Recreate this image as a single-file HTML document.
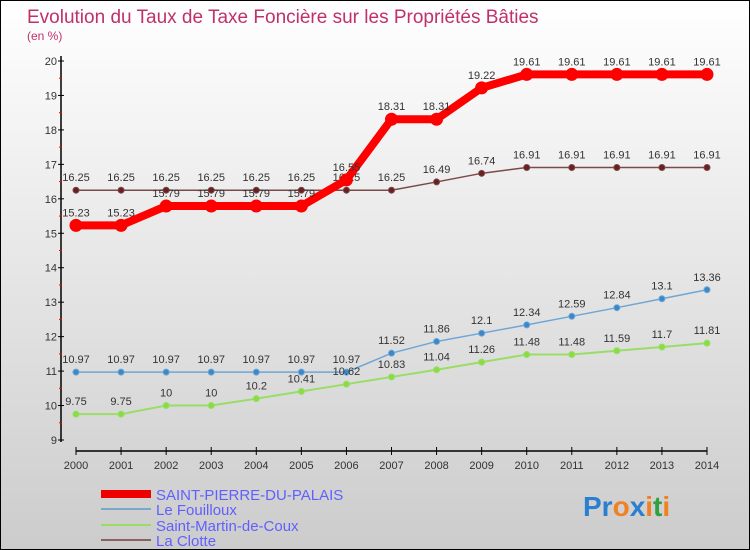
<!DOCTYPE html>
<html><head><meta charset="utf-8"><style>
body{margin:0;}
#c{width:750px;height:550px;position:relative;box-sizing:border-box;border:1px solid #000;background:linear-gradient(#fff,#ccc);font-family:"Liberation Sans",sans-serif;overflow:hidden}
svg text{font-family:"Liberation Sans",sans-serif}
</style></head><body>
<div id="c">
<svg id="s" width="750" height="550">
<text x="26" y="22" font-size="19" fill="#c0306a">Evolution du Taux de Taxe Foncière sur les Propriétés Bâties</text>
<text x="26" y="39" font-size="12" fill="#c0306a">(en %)</text>
<g id="axes"></g><g id="series"></g>
<g>
<rect x="100" y="528" width="0" height="0"/>
<line x1="100" y1="493" x2="150" y2="493" stroke="#e00" stroke-width="8"/>
<text x="155" y="499" font-size="15" fill="#6060ff">SAINT-PIERRE-DU-PALAIS</text>
<line x1="100" y1="508" x2="150" y2="508" stroke="#7aa8cc" stroke-width="2"/>
<text x="155" y="514" font-size="15" fill="#6060ff">Le Fouilloux</text>
<line x1="100" y1="524" x2="150" y2="524" stroke="#99dd66" stroke-width="2"/>
<text x="155" y="530" font-size="15" fill="#6060ff">Saint-Martin-de-Coux</text>
<line x1="100" y1="539" x2="150" y2="539" stroke="#8a6060" stroke-width="2"/>
<text x="155" y="545" font-size="15" fill="#6060ff">La Clotte</text>
</g>
<text x="582" y="515" font-size="28" font-weight="bold"><tspan fill="#2a7fd0">Pr</tspan><tspan fill="#f08020">o</tspan><tspan fill="#2a7fd0">x</tspan><tspan fill="#f08020">i</tspan><tspan fill="#30a040">t</tspan><tspan fill="#f08020">i</tspan></text>
</svg></div>
<script>
const years=[2000,2001,2002,2003,2004,2005,2006,2007,2008,2009,2010,2011,2012,2013,2014];
const yTicks=[9,10,11,12,13,14,15,16,17,18,19,20];
const spp=[15.23,15.23,15.79,15.79,15.79,15.79,16.55,18.31,18.31,19.22,19.61,19.61,19.61,19.61,19.61];
const fouilloux=[10.97,10.97,10.97,10.97,10.97,10.97,10.97,11.52,11.86,12.1,12.34,12.59,12.84,13.1,13.36];
const smc=[9.75,9.75,10,10,10.2,10.41,10.62,10.83,11.04,11.26,11.48,11.48,11.59,11.7,11.81];
const clotte=[16.25,16.25,16.25,16.25,16.25,16.25,16.25,16.25,16.49,16.74,16.91,16.91,16.91,16.91,16.91];
const NS="http://www.w3.org/2000/svg";
const X=i=>75+i*(706-75)/14;
const Y=v=>439-(v-9)*(439-60)/11;
function mk(t,a,p){const e=document.createElementNS(NS,t);for(const k in a)e.setAttribute(k,a[k]);p.appendChild(e);return e;}
const ax=document.getElementById('axes');
let l=mk('line',{x1:60,y1:55,x2:60,y2:441,stroke:'#000','stroke-width':1.5},ax);


l=mk('line',{x1:75,y1:450,x2:706,y2:450,stroke:'#000','stroke-width':1.5},ax);


yTicks.forEach(v=>{
 mk('line',{x1:57,x2:63,y1:Y(v),y2:Y(v),stroke:'#000'},ax);
 if(v<20) mk('line',{x1:58,x2:61,y1:Y(v+0.5),y2:Y(v+0.5),stroke:'#f00'},ax);
 const t=mk('text',{x:56,y:Y(v)+4,'text-anchor':'end','font-size':11,fill:'#333'},ax);t.textContent=v;
 
 
});
years.forEach((y,i)=>{
 mk('line',{x1:X(i),x2:X(i),y1:446,y2:454,stroke:'#000'},ax);
 const t=mk('text',{x:X(i),y:468,'text-anchor':'middle','font-size':11,fill:'#333'},ax);t.textContent=y;
 
 
});
const sg=document.getElementById('series');
function draw(data,col,w,r,fill,name){
 const g=mk('g',{},sg);
 
 
 mk('polyline',{points:data.map((v,i)=>X(i)+','+Y(v)).join(' '),fill:'none',stroke:col,'stroke-width':w,'stroke-linejoin':'round'},g);
 data.forEach((v,i)=>{
  const c=mk('circle',{cx:X(i),cy:Y(v),r:r,fill:fill,stroke:col,'stroke-width':1},g);
  
  
  const t=mk('text',{x:X(i),y:Y(v)-9,'text-anchor':'middle','font-size':11,fill:'#333'},g);t.textContent=v;
  
  
 });
}
draw(clotte,'#7a4a4a',1.5,3,'#6a2020','series-la-clotte');
draw(fouilloux,'#6fa6d6',1.5,3,'#3a88c8','series-le-fouilloux');
draw(smc,'#99dd66',2,3,'#88dd44','series-saint-martin-de-coux');
draw(spp,'#ff0000',8,6,'#ff0000','series-saint-pierre-du-palais');
</script>
</body></html>
